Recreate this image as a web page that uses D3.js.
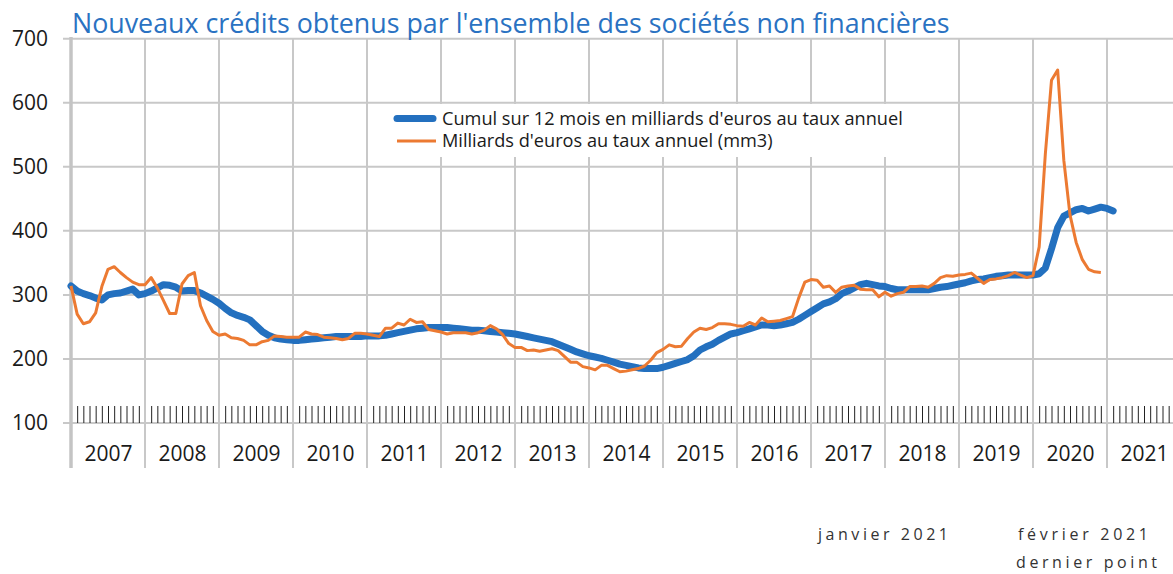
<!DOCTYPE html>
<html><head><meta charset="utf-8">
<script src="https://cdn.jsdelivr.net/npm/d3@7"></script>
<style>body{margin:0;background:#fff}svg{display:block}text{font-family:"Open Sans",sans-serif}</style>
</head><body>
<svg id="c" width="1173" height="574"></svg>
<script>
const title = "Nouveaux crédits obtenus par l'ensemble des sociétés non financières";
const seriesNames = ["Cumul sur 12 mois en milliards d'euros au taux annuel", "Milliards d'euros au taux annuel (mm3)"];
const years = [2007,2008,2009,2010,2011,2012,2013,2014,2015,2016,2017,2018,2019,2020,2021];
const yTicks = [100,200,300,400,500,600,700];
const startYear = 2007; // month index 0 = janvier 2007
const notes = ["janvier 2021", "février 2021", "dernier point"];

// Cumul sur 12 mois (monthly, Jan 2007 .. Feb 2021)
const cumul12 = [
314,306,302,299,295,292,300,302,303,306,309,300,
302,306,311,316,315,312,306,307,307,303,298,293,
287,279,272,268,265,261,252,243,237,233,231,230,
229,229,230,231,232,233,234,235,235,235,235,235,
236,236,236,237,239,241,243,245,247,248,249,249,
249,249,248,247,246,245,245,244,243,242,241,240,
239,237,235,233,231,229,227,223,219,215,211,208,
205,203,201,198,195,192,190,188,186,185,185,185,
187,190,193,196,199,205,214,219,223,229,234,239,
241,244,247,250,253,253,252,253,255,257,262,268,
274,280,286,289,294,302,306,311,316,318,316,314,
313,310,308,308,308,308,308,308,310,312,313,315,
317,319,322,324,325,327,329,330,331,331,331,331,
331,333,342,372,405,423,428,433,435,431,434,437,
435,431];

// Milliards d'euros au taux annuel, mm3 (monthly, Jan 2007 .. Dec 2020)
const mm3 = [
314,270,255,258,272,313,340,344,335,327,320,316,
316,327,311,291,271,271,317,330,335,283,260,243,
237,239,233,232,229,222,222,227,229,236,235,234,
234,234,242,239,238,234,233,232,230,232,240,240,
239,237,235,248,248,256,253,262,257,258,246,244,
242,239,241,241,241,239,241,245,252,247,238,224,
218,218,213,214,212,214,216,213,204,195,195,188,
186,183,190,190,185,180,181,183,185,189,198,210,
215,222,219,220,232,242,248,246,249,255,255,254,
252,251,257,253,264,258,259,260,263,266,295,320,
324,323,312,314,304,312,314,315,309,308,308,297,
304,298,302,304,313,313,314,312,318,327,330,329,
331,332,334,326,318,324,325,327,330,335,331,327,
330,375,520,635,651,510,425,382,355,340,336,335];

const svg = d3.select("#c");
const x = d3.scaleLinear().domain([0, (years.length)*12]).range([71, 71 + years.length*74]);
const y = d3.scaleLinear().domain([100, 700]).range([423, 38.7]);
const grid = "#c8c8c8";

// horizontal gridlines
svg.append("g").selectAll("line").data(yTicks).join("line")
  .attr("x1", 63).attr("x2", 1181)
  .attr("y1", d => y(d)).attr("y2", d => y(d))
  .attr("stroke", grid).attr("stroke-width", 2);

// vertical year gridlines
svg.append("g").selectAll("line").data(years.slice(1).concat([years[years.length-1]+1])).join("line")
  .attr("x1", d => x((d-startYear)*12)).attr("x2", d => x((d-startYear)*12))
  .attr("y1", 38).attr("y2", 468)
  .attr("stroke", grid).attr("stroke-width", 2);

// left axis line
svg.append("line").attr("x1", x(0)).attr("x2", x(0)).attr("y1", 37).attr("y2", 468)
  .attr("stroke", "#c4c4c4").attr("stroke-width", 3.5);

// monthly minor ticks
const months = d3.range(1, years.length*12).filter(m => m % 12 !== 0);
const mAxis = svg.append("g").attr("transform", `translate(0,${y(100)})`)
  .call(d3.axisBottom(x).tickValues(months).tickSizeInner(-17).tickSizeOuter(0).tickFormat(""));
mAxis.select(".domain").remove();
mAxis.selectAll(".tick line").attr("stroke", "#222").attr("stroke-width", 1);

// y labels
const yAxis = svg.append("g").attr("transform", "translate(48,0)")
  .call(d3.axisLeft(y).tickValues(yTicks).tickSize(0).tickPadding(0));
yAxis.select(".domain").remove();
yAxis.selectAll("text").attr("font-size", 21).attr("fill", "#1a1a1a").attr("font-family", "Open Sans");

// year labels
const xAxis = svg.append("g").attr("transform", "translate(0,446)")
  .call(d3.axisBottom(x).tickValues(years.map((yr,i) => i*12+6)).tickSize(0).tickPadding(0)
    .tickFormat((d,i) => years[i]));
xAxis.select(".domain").remove();
xAxis.selectAll("text").attr("font-size", 21).attr("fill", "#1a1a1a").attr("font-family", "Open Sans");

// lines
const line = d3.line().x((d,i) => x(i)).y(d => y(d));
svg.append("path").datum(cumul12).attr("d", line).attr("fill", "none")
  .attr("stroke", "#2370bf").attr("stroke-width", 7).attr("stroke-linejoin", "round").attr("stroke-linecap", "round");
svg.append("path").datum(mm3).attr("d", line).attr("fill", "none")
  .attr("stroke", "#ec7a32").attr("stroke-width", 3).attr("stroke-linejoin", "round");

// legend
svg.append("rect").attr("x", 386).attr("y", 104).attr("width", 524).attr("height", 53).attr("fill", "#fff");
svg.append("line").attr("x1", 397).attr("x2", 433).attr("y1", 118.5).attr("y2", 118.5)
  .attr("stroke", "#2370bf").attr("stroke-width", 7).attr("stroke-linecap", "round");
svg.append("line").attr("x1", 397).attr("x2", 436).attr("y1", 141).attr("y2", 141)
  .attr("stroke", "#ec7a32").attr("stroke-width", 3);
function fit(sel, target) {
  const w = sel.node().getComputedTextLength();
  const fs = parseFloat(sel.attr("font-size"));
  sel.attr("font-size", fs * target / w);
}
const l1 = svg.append("text").attr("x", 442).attr("y", 124.5).attr("font-size", 18).attr("fill", "#1a1a1a").text(seriesNames[0]);
fit(l1, 461);
const l2 = svg.append("text").attr("x", 442).attr("y", 147).attr("font-size", 18).attr("fill", "#1a1a1a").text(seriesNames[1]);
l2.attr("font-size", l1.attr("font-size"));

// title
const t = svg.append("text").attr("x", 72).attr("y", 33).attr("font-size", 26).attr("fill", "#2a72c2").text(title);
fit(t, 878);

// bottom notes
const nt = [[818, 540, 130], [1018, 540, 130], [1016, 568, 141]];
notes.forEach((s, i) => {
  svg.append("text").attr("x", nt[i][0]).attr("y", nt[i][1]).attr("font-size", 16)
    .attr("fill", "#333").attr("textLength", nt[i][2]).attr("lengthAdjust", "spacing").text(s);
});
</script>
</body></html>
